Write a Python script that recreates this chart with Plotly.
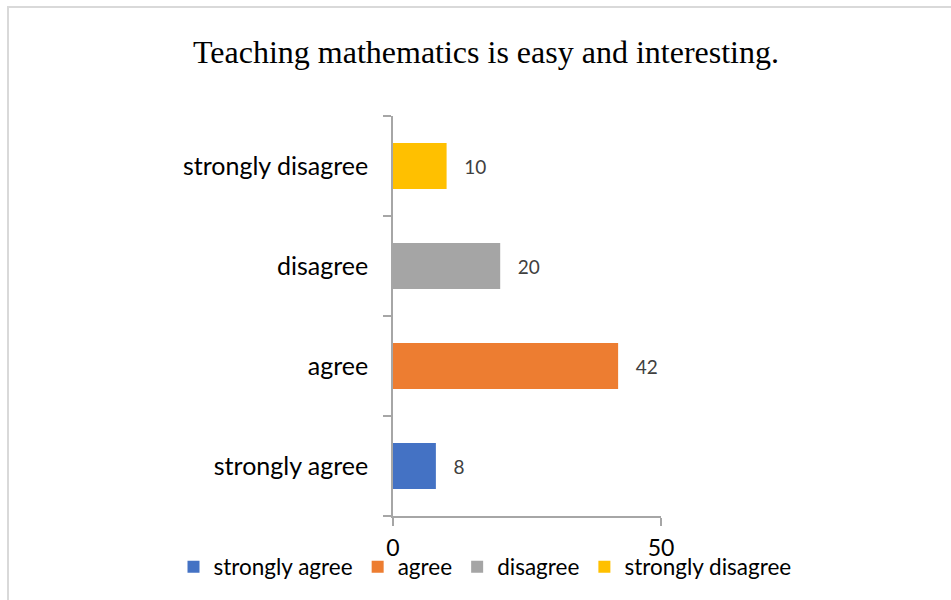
import plotly.graph_objects as go

categories = ["strongly agree", "agree", "disagree", "strongly disagree"]
values = [8, 42, 20, 10]
colors = ["#4472C4", "#ED7D31", "#A5A5A5", "#FFC000"]
title_text = "Teaching mathematics is easy and interesting."
x_ticks = [0, 50]

W, H = 951, 600
L, R, T, B = 393, 290, 116, 84
pw, ph = W - L - R, H - T - B

def px_x(p):
    return (p - L) / pw

def px_y(p):
    return (H - B - p) / ph

fig = go.Figure()
for cat, val, col in zip(categories, values, colors):
    fig.add_trace(go.Bar(
        y=[cat], x=[val], orientation="h", name=cat,
        marker=dict(color=col, line=dict(width=0)),
        text=["   " + str(val)], textposition="outside",
        textfont=dict(family="Lato", size=19, color="#404040"),
        cliponaxis=False, width=0.46,
    ))

fig.update_layout(
    width=W, height=H,
    margin=dict(l=L, r=R, t=T, b=B, autoexpand=False),
    paper_bgcolor="white", plot_bgcolor="white",
    barmode="overlay",
    title=dict(text=title_text, x=486 / W, xanchor="center", y=1 - 52 / H, yanchor="middle",
               font=dict(family="Liberation Serif", size=32, color="black")),
    showlegend=True,
    legend=dict(orientation="h", x=px_x(173.5), xanchor="left",
                y=px_y(567), yanchor="middle", bgcolor="rgba(0,0,0,0)",
                font=dict(family="Lato", size=22.5, color="black"), traceorder="normal",
                itemwidth=30),
    xaxis=dict(range=[0, 50], tickvals=x_ticks, showgrid=True, gridcolor="#A6A6A6", gridwidth=1.5,
               showline=True, linecolor="#A6A6A6", linewidth=1.5, ticks="outside", ticklen=8,
               tickcolor="#A6A6A6", tickwidth=1.5, zeroline=False, ticklabelstandoff=3,
               tickfont=dict(family="Lato", size=23, color="black"), fixedrange=True),
    yaxis=dict(categoryorder="array", categoryarray=categories, showline=True, linecolor="#A6A6A6",
               linewidth=1.5, ticks="outside", ticklen=8, tickcolor="#A6A6A6", tickwidth=1.5,
               tickson="boundaries", showgrid=False, ticklabelstandoff=18, fixedrange=True,
               tickfont=dict(family="Lato", size=25, color="black")),
    shapes=[dict(type="rect", xref="paper", yref="paper", x0=px_x(8), x1=px_x(1000), y0=px_y(650), y1=px_y(7),
                 line=dict(color="#D9D9D9", width=2), fillcolor="rgba(0,0,0,0)", layer="below")],
)

fig.write_html("out.html", config={"displayModeBar": False},
               post_script="document.body.style.margin='0px';")
